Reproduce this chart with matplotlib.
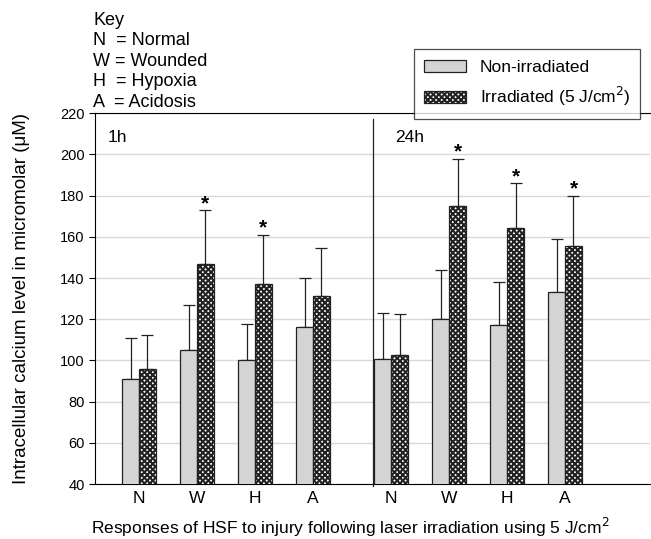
import matplotlib
matplotlib.use('Agg')
import matplotlib.pyplot as plt
import numpy as np

plt.rcParams['font.family'] = ['Liberation Sans', 'DejaVu Sans']
plt.rcParams['hatch.linewidth'] = 1.5
plt.rcParams['hatch.color'] = '#1a1a1a'

labels = ['N', 'W', 'H', 'A', 'N', 'W', 'H', 'A']
positions = [0, 1, 2, 3, 4.35, 5.35, 6.35, 7.35]

non_irr = [91, 105, 100, 116, 100.5, 120, 117, 133]
non_irr_err = [20, 22, 17.5, 24, 22.5, 24, 21, 26]
irr = [96, 147, 137, 131.5, 102.5, 175, 164.5, 155.5]
irr_err = [16.5, 26, 24, 23, 20, 23, 21.5, 24.5]
significant = [False, True, True, False, False, True, True, True]

fig = plt.figure(figsize=(6.51, 5.39), dpi=100)
ax = fig.add_axes([0.146, 0.102, 0.852, 0.688])

w = 0.29
x = np.array(positions)
ax.bar(x - w / 2, non_irr, w, color='#d4d4d4', edgecolor='#222222',
       linewidth=0.9, zorder=3, label='Non-irradiated')
ax.bar(x + w / 2, irr, w, color='white', edgecolor='#222222', hatch='xxxxxx',
       linewidth=0.9, zorder=3, label='Irradiated (5 J/cm$^2$)')

ax.errorbar(x - w / 2, non_irr, yerr=[np.zeros(8), non_irr_err], fmt='none',
            ecolor='#222222', elinewidth=0.9, capsize=4, capthick=0.9, zorder=2)
ax.errorbar(x + w / 2, irr, yerr=[np.zeros(8), irr_err], fmt='none',
            ecolor='#222222', elinewidth=0.9, capsize=4, capthick=0.9, zorder=2)

for xi, v, e, s in zip(x, irr, irr_err, significant):
    if s:
        ax.text(xi + w / 2, v + e - 1.5, '*', ha='center', va='bottom',
                fontsize=15, fontweight='bold')

ax.set_ylim(40, 220)
ax.set_xlim(-0.76, 8.81)
ax.set_yticks(np.arange(40, 221, 20))
ax.yaxis.grid(True, color='#d8d8d8', linewidth=1.0, zorder=0)
ax.set_axisbelow(True)
ax.set_xticks(positions)
ax.set_xticklabels(labels, fontsize=12.5)
ax.tick_params(axis='x', length=0, pad=5)
ax.tick_params(axis='y', labelsize=10.5, direction='out', length=4)
ax.spines['right'].set_visible(False)
# divider between the 1h and 24h groups, poking slightly below the axis
ax.plot([4.03, 4.03], [38.8, 217], color='#222222', linewidth=0.9, clip_on=False, zorder=4)

ax.text(-0.55, 212, '1h', fontsize=12.5, va='top')
ax.text(4.41, 212, '24h', fontsize=12.5, va='top')

ax.set_ylabel('Intracellular calcium level in micromolar (\u03bcM)', fontsize=13.5)
ax.yaxis.set_label_coords(-0.118, 0.5)
ax.set_xlabel('Responses of HSF to injury following laser irradiation using 5 J/cm$^2$',
              fontsize=12.5)
ax.xaxis.set_label_coords(0.46, -0.087)

fig.text(0.143, 0.978, 'Key\nN  = Normal\nW = Wounded\nH  = Hypoxia\nA  = Acidosis',
         fontsize=13, va='top', linespacing=1.27)

leg = fig.legend(loc='upper right', bbox_to_anchor=(0.997, 0.925), fontsize=12.5,
                 frameon=True, fancybox=False, edgecolor='#222222',
                 handlelength=2.4, handleheight=0.7, borderpad=0.6, labelspacing=0.6)
leg.get_frame().set_linewidth(0.9)

fig.savefig('out.png', dpi=100)
